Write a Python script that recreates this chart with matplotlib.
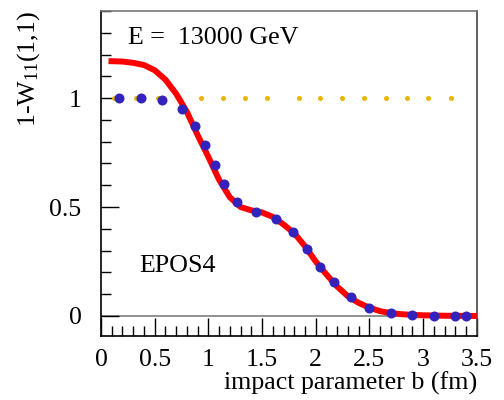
import matplotlib
matplotlib.use("Agg")
import matplotlib.pyplot as plt
from matplotlib.ticker import MultipleLocator, FuncFormatter

plt.rcParams['font.family'] = ['Liberation Serif', 'DejaVu Serif']
plt.rcParams['mathtext.default'] = 'regular'

# EPOS4 points (blue)
b_epos = [0.17, 0.37, 0.57, 0.75, 0.88, 0.97, 1.06, 1.15, 1.27, 1.44, 1.63, 1.79,
          1.92, 2.04, 2.17, 2.33, 2.50, 2.70, 2.90, 3.10, 3.30, 3.40]
w_epos = [1.0, 1.0, 0.99, 0.95, 0.872, 0.783, 0.694, 0.605, 0.523, 0.475, 0.443, 0.385,
          0.309, 0.227, 0.154, 0.086, 0.037, 0.015, 0.005, 0.002, 0.0, 0.0]

# fitted curve (red)
b_fit = [0.07, 0.2, 0.3, 0.4, 0.5, 0.6, 0.7, 0.8, 0.9, 1.0, 1.1, 1.2, 1.3, 1.4, 1.5,
         1.6, 1.7, 1.8, 1.9, 2.0, 2.1, 2.2, 2.3, 2.4, 2.5, 2.6, 2.7, 2.8, 2.9, 3.0,
         3.2, 3.5]
w_fit = [1.17, 1.168, 1.162, 1.152, 1.128, 1.085, 1.02, 0.937, 0.83, 0.73, 0.625,
         0.545, 0.5, 0.485, 0.475, 0.455, 0.42, 0.38, 0.32, 0.25, 0.19, 0.135, 0.09,
         0.06, 0.038, 0.022, 0.013, 0.008, 0.005, 0.003, 0.001, 0.0]

# reference level (orange dots)
b_ref = [0.12, 0.33, 0.53, 0.73, 0.93, 1.14, 1.34, 1.55, 1.84, 2.04, 2.24, 2.45,
         2.65, 2.85, 3.05, 3.26]
w_ref = [1.0] * len(b_ref)

fig = plt.figure(figsize=(5.04, 4.0), dpi=100)
ax = fig.add_axes([0.2004, 0.16, 0.7456, 0.8125])

ax.axhline(0, color="#888888", lw=1.3, zorder=1)
ax.plot(b_ref, w_ref, "o", color="#E8B400", ms=3.6, mec="none", zorder=2)
ax.plot(b_fit, w_fit, "-", color="#FF0000", lw=4.3, zorder=3, solid_capstyle="butt")
ax.plot(b_epos, w_epos, "o", color="#3322BB", ms=7.2, mec="none", zorder=4)

ax.set_xlim(0, 3.5)
ax.set_ylim(-0.092, 1.4)

# ticks: inward, majors every 0.5, minors every 0.1
ax.xaxis.set_major_locator(MultipleLocator(0.5))
ax.xaxis.set_minor_locator(MultipleLocator(0.1))
ax.yaxis.set_major_locator(MultipleLocator(0.5))
ax.yaxis.set_minor_locator(MultipleLocator(0.1))
ax.tick_params(which="both", direction="in", top=False, right=False, labelsize=18.5, width=1.0)
ax.tick_params(which="major", length=13)
ax.tick_params(which="minor", length=7)
ax.tick_params(axis="x", which="major", pad=9)
ax.tick_params(axis="y", which="major", pad=14)
ax.xaxis.set_major_formatter(FuncFormatter(lambda v, p: "%g" % v))
ax.yaxis.set_major_formatter(FuncFormatter(lambda v, p: "%g" % v))

for s in ["left", "bottom"]:
    ax.spines[s].set_color("black")
    ax.spines[s].set_linewidth(1.2)
ax.spines["top"].set_color("#777777")
ax.spines["top"].set_linewidth(1.2)
ax.spines["right"].set_color("#444444")
ax.spines["right"].set_linewidth(1.2)

ax.set_xlabel("impact parameter b (fm)", fontsize=18.7, loc="right", labelpad=1)
ax.set_ylabel("1-W$_{11}$(1,1)", fontsize=18.7, loc="top", labelpad=5)

ax.text(0.25, 1.248, "E =  13000 GeV", fontsize=18.7, va="baseline", ha="left")
ax.text(0.357, 0.203, "EPOS4", fontsize=18.7, va="baseline", ha="left")

fig.savefig("out.png", dpi=100)
